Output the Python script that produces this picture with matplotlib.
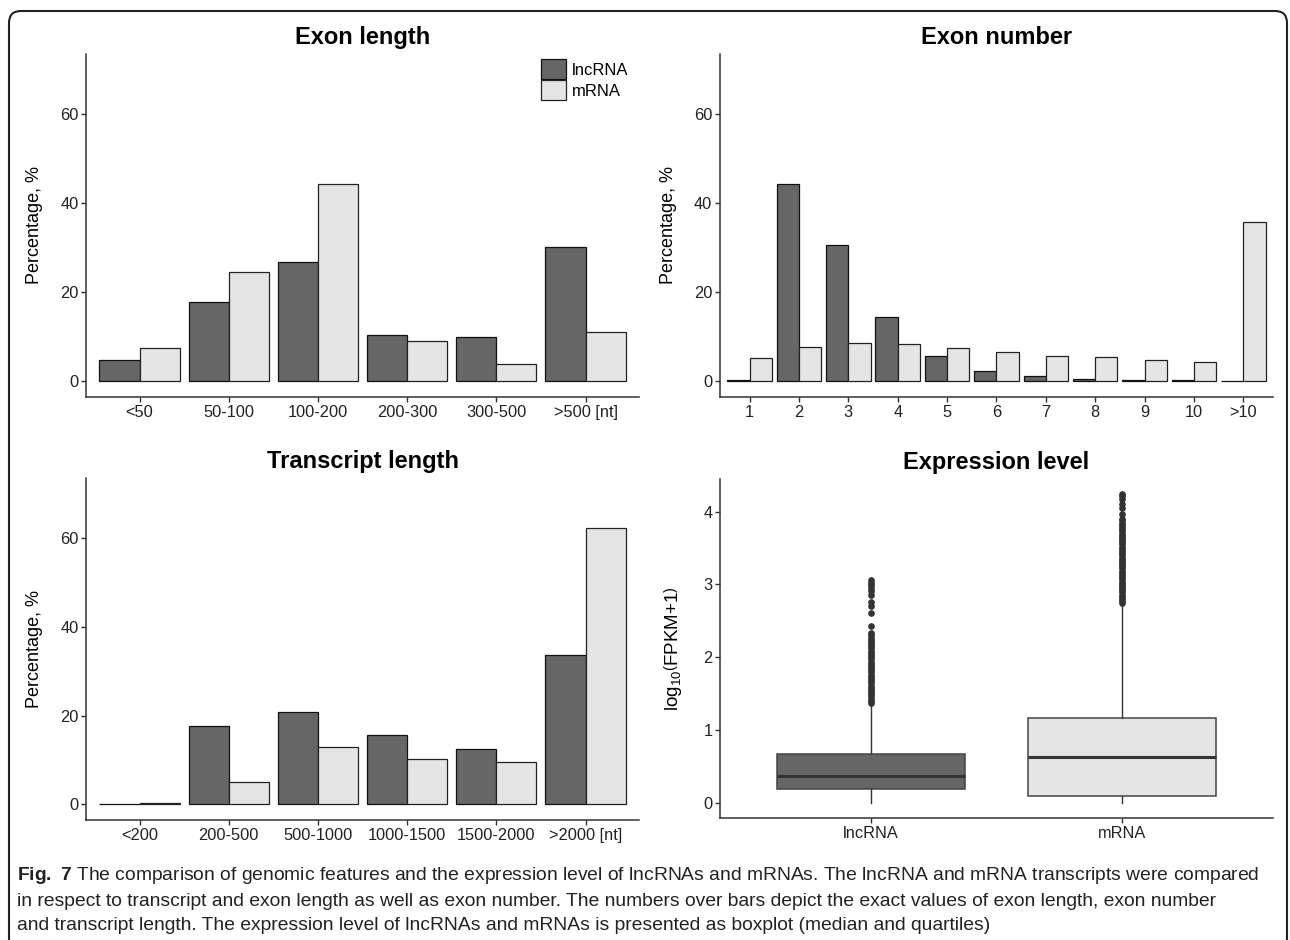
import matplotlib
matplotlib.use("Agg")
import matplotlib.pyplot as plt
from matplotlib.patches import Patch, FancyBboxPatch

plt.rcParams['font.family'] = ['Liberation Sans', 'DejaVu Sans']
plt.rcParams['mathtext.fontset'] = 'custom'
plt.rcParams['mathtext.rm'] = 'Liberation Sans'
plt.rcParams['mathtext.bf'] = 'Liberation Sans:bold'

# ── Data ────────────────────────────────────────────────────
exon_len_cats = ["<50", "50-100", "100-200", "200-300", "300-500", ">500 [nt]"]
exon_len_lnc = [4.8, 17.9, 26.7, 10.3, 10.0, 30.1]
exon_len_mrna = [7.5, 24.5, 44.2, 9.0, 4.0, 11.0]

exon_num_cats = ["1", "2", "3", "4", "5", "6", "7", "8", "9", "10", ">10"]
exon_num_lnc = [0.4, 44.4, 30.7, 14.5, 5.7, 2.3, 1.2, 0.45, 0.4, 0.3, 0.1]
exon_num_mrna = [5.2, 7.7, 8.7, 8.4, 7.5, 6.6, 5.8, 5.4, 4.9, 4.3, 35.7]

tr_len_cats = ["<200", "200-500", "500-1000", "1000-1500", "1500-2000", ">2000 [nt]"]
tr_len_lnc = [0.05, 17.7, 20.8, 15.7, 12.4, 33.7]
tr_len_mrna = [0.35, 5.0, 13.0, 10.3, 9.6, 62.2]

# boxplot statistics: whisker low, Q1, median, Q3, whisker high
box_labels = ["lncRNA", "mRNA"]
lnc_box = [0.0, 0.18, 0.37, 0.67, 1.36]
mrna_box = [0.0, 0.09, 0.63, 1.165, 2.72]
lnc_outliers = [1.37, 1.40, 1.43, 1.46, 1.49, 1.52, 1.55, 1.58, 1.61, 1.64,
                1.67, 1.70, 1.73, 1.76, 1.79, 1.82, 1.85, 1.88, 1.91, 1.94,
                1.97, 2.00, 2.03, 2.06, 2.09, 2.12, 2.15, 2.18, 2.21, 2.24,
                2.27, 2.30, 2.33, 2.43, 2.61, 2.71, 2.76, 2.86, 2.91, 2.95,
                2.99, 3.02, 3.06]
mrna_outliers = [2.74, 2.77, 2.80, 2.83, 2.86, 2.89, 2.92, 2.95, 2.98, 3.01,
                 3.04, 3.07, 3.10, 3.13, 3.16, 3.19, 3.22, 3.25, 3.28, 3.31,
                 3.34, 3.37, 3.40, 3.43, 3.46, 3.49, 3.52, 3.55, 3.58, 3.61,
                 3.64, 3.67, 3.70, 3.73, 3.76, 3.79, 3.82, 3.85, 3.88, 3.90,
                 3.97, 4.05, 4.10, 4.17, 4.21, 4.24]

DARK = "#666666"
LIGHT = "#e5e5e5"
AXC = "#333333"

fig = plt.figure(figsize=(12.9, 9.4), dpi=100)

# rounded frame around the whole figure
frame = FancyBboxPatch((0.09, -0.5), 12.78, 9.29 + 0.5,
                       boxstyle="round,pad=0,rounding_size=0.12",
                       transform=fig.dpi_scale_trans, fill=False,
                       edgecolor="#222222", linewidth=1.5, clip_on=False)
fig.patches.append(frame)


def style_axes(ax):
    for s in ("top", "right"):
        ax.spines[s].set_visible(False)
    for s in ("left", "bottom"):
        ax.spines[s].set_linewidth(1.1)
        ax.spines[s].set_color(AXC)
    ax.tick_params(axis="both", length=3.5, width=1.0, color=AXC,
                   labelsize=11.8, labelcolor="#222222", pad=2)


def bar_panel(rect, title, cats, lnc, mrna, legend=False):
    ax = fig.add_axes(rect)
    x = list(range(1, len(cats) + 1))
    ax.bar([v - 0.225 for v in x], lnc, width=0.45, color=DARK,
           edgecolor="#111111", linewidth=0.9, label="lncRNA")
    ax.bar([v + 0.225 for v in x], mrna, width=0.45, color=LIGHT,
           edgecolor="#222222", linewidth=0.9, label="mRNA")
    ax.set_xlim(0.4, len(cats) + 0.6)
    ax.set_ylim(-3.5, 73.5)
    ax.set_yticks([0, 20, 40, 60])
    ax.set_xticks(x)
    ax.set_xticklabels(cats)
    ax.set_ylabel("Percentage, %", fontsize=13, labelpad=12)
    ax.set_title(title, fontsize=17, fontweight="bold", pad=7)
    style_axes(ax)
    if legend:
        handles = [Patch(facecolor=DARK, edgecolor="#111111", linewidth=0.9),
                   Patch(facecolor=LIGHT, edgecolor="#222222", linewidth=0.9)]
        ax.legend(handles, ["lncRNA", "mRNA"], loc="upper left",
                  bbox_to_anchor=(0.823, 0.985), frameon=False, fontsize=12,
                  handlelength=1.5, handleheight=1.5, labelspacing=0.03,
                  handletextpad=0.35, borderpad=0, borderaxespad=0)
    return ax


bar_panel([0.0667, 0.5777, 0.4287, 0.3649], "Exon length",
          exon_len_cats, exon_len_lnc, exon_len_mrna, legend=True)
bar_panel([0.5581, 0.5777, 0.4287, 0.3649], "Exon number",
          exon_num_cats, exon_num_lnc, exon_num_mrna)
bar_panel([0.0667, 0.1277, 0.4287, 0.3638], "Transcript length",
          tr_len_cats, tr_len_lnc, tr_len_mrna)

# ── Expression level boxplot ────────────────────────────────
ax4 = fig.add_axes([0.5581, 0.1298, 0.4287, 0.3606])
stats = []
for lab, b, fl in ((box_labels[0], lnc_box, lnc_outliers),
                   (box_labels[1], mrna_box, mrna_outliers)):
    stats.append({"label": lab, "whislo": b[0], "q1": b[1], "med": b[2],
                  "q3": b[3], "whishi": b[4], "fliers": fl})
bp = ax4.bxp(stats, positions=[1, 2], widths=0.75, patch_artist=True,
             showcaps=False,
             boxprops=dict(edgecolor="#444444", linewidth=1.1),
             medianprops=dict(color="#333333", linewidth=2.2),
             whiskerprops=dict(color="#333333", linewidth=1.0),
             flierprops=dict(marker="o", markersize=3.8,
                             markerfacecolor="#333333",
                             markeredgecolor="#333333"))
bp["boxes"][0].set_facecolor(DARK)
bp["boxes"][1].set_facecolor(LIGHT)
ax4.set_xlim(0.4, 2.6)
ax4.set_ylim(-0.212, 4.45)
ax4.set_yticks([0, 1, 2, 3, 4])
ax4.set_ylabel(r"$\mathrm{log_{10}}\left(\mathrm{FPKM{+}1}\right)$",
               fontsize=13.5, labelpad=14)
ax4.set_title("Expression level", fontsize=17, fontweight="bold", pad=7)
style_axes(ax4)

# ── Caption ─────────────────────────────────────────────────
caption = [r"$\mathbf{Fig.}$ $\mathbf{7}$ The comparison of genomic features and the expression level of lncRNAs and mRNAs. The lncRNA and mRNA transcripts were compared",
           "in respect to transcript and exon length as well as exon number. The numbers over bars depict the exact values of exon length, exon number",
           "and transcript length. The expression level of lncRNAs and mRNAs is presented as boxplot (median and quartiles)"]
for i, line in enumerate(caption):
    fig.text(17 / 1290, 1 - (876 + 25 * i) / 940, line, fontsize=13.9,
             color="#222222", va="center", ha="left")

fig.savefig("out.png", dpi=100)
